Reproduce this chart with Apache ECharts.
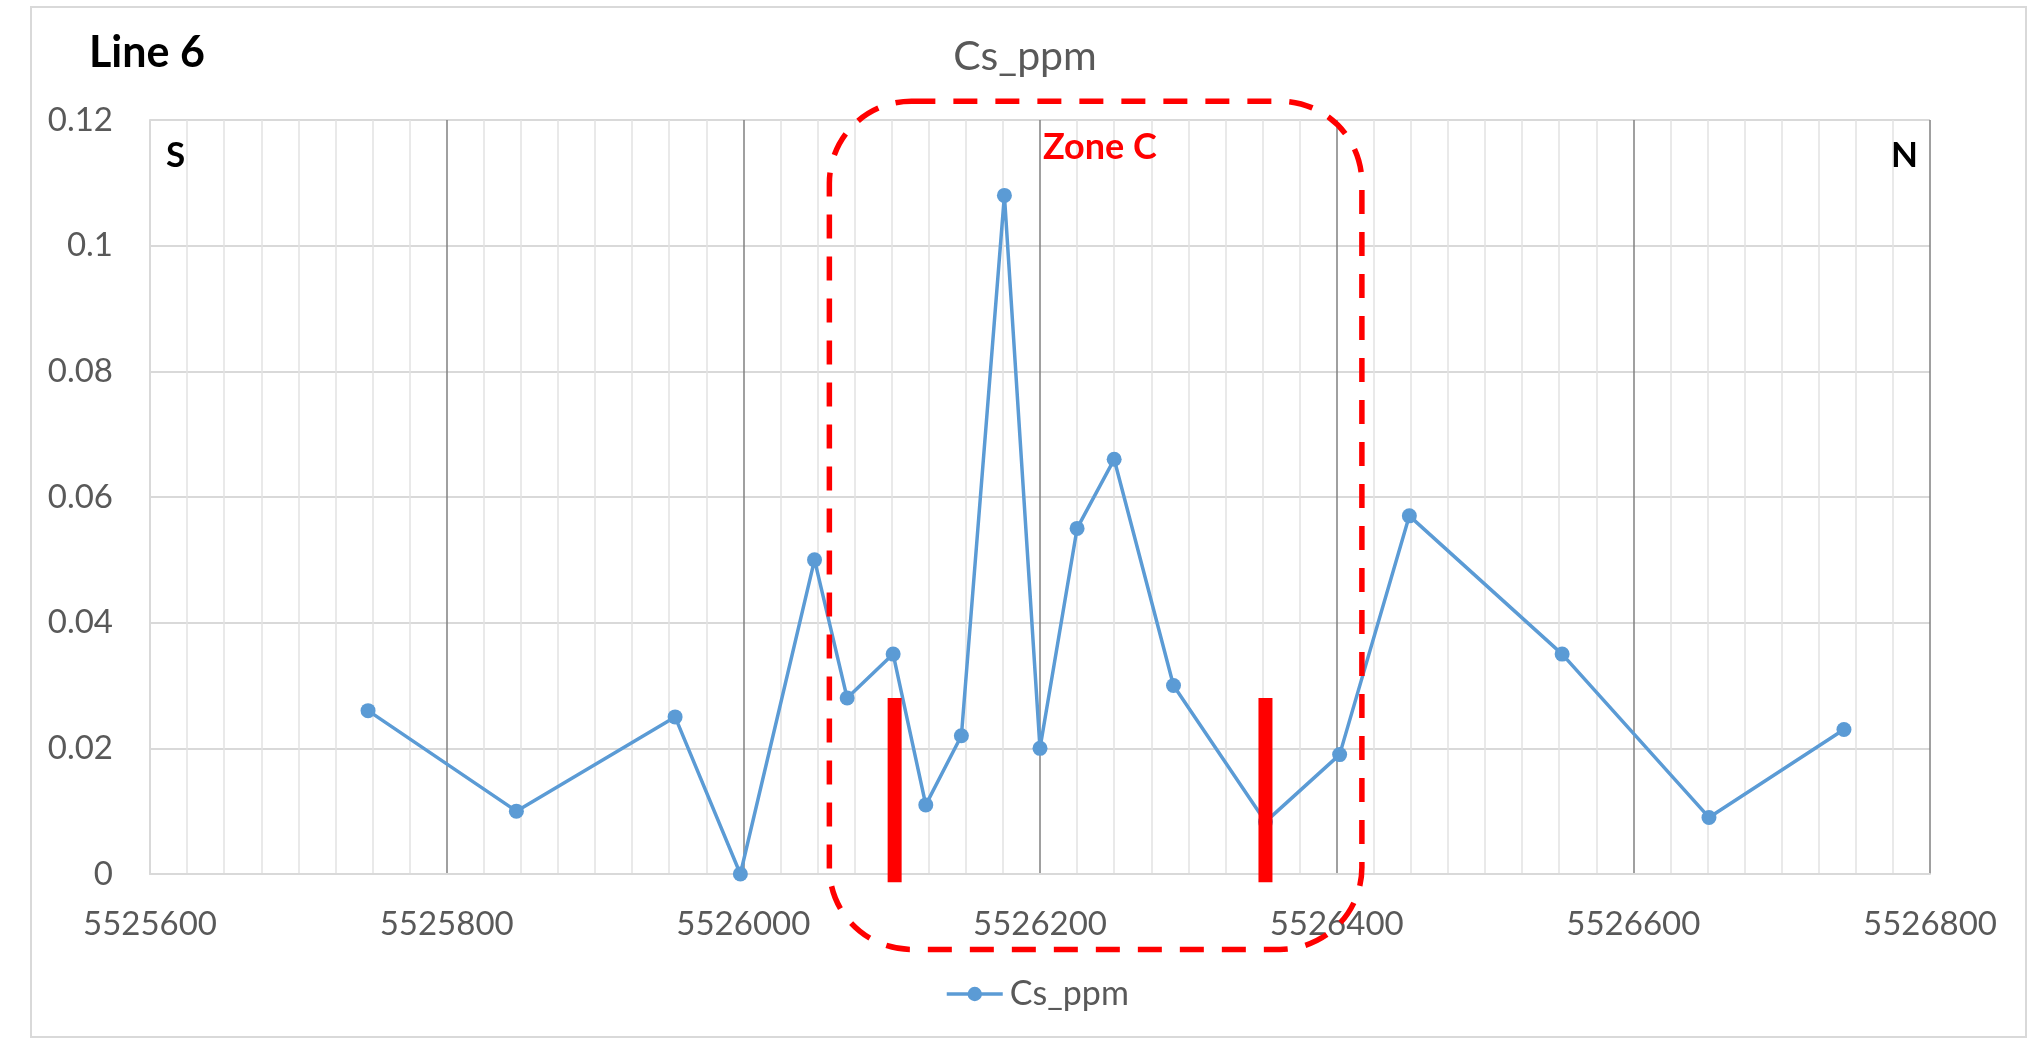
<!DOCTYPE html>
<html>
<head>
<meta charset="utf-8">
<script src="https://cdn.jsdelivr.net/npm/echarts@6/dist/echarts.min.js"></script>
<style>
  html, body { margin: 0; padding: 0; background: #fff; }
  #chart { width: 2029px; height: 1043px; }
</style>
</head>
<body>
<div id="chart"></div>
<script>
// ---- data ----
const positions = [5525747, 5525847, 5525954, 5525998, 5526048, 5526070, 5526101, 5526123, 5526147, 5526176,
                   5526200, 5526225, 5526250, 5526290, 5526352, 5526402, 5526449, 5526552, 5526651, 5526742];
const csPpm     = [0.026, 0.010, 0.025, 0.000, 0.050, 0.028, 0.035, 0.011, 0.022, 0.108,
                   0.020, 0.055, 0.066, 0.030, 0.0083, 0.019, 0.057, 0.035, 0.009, 0.023];
const markerPositions = [5526102, 5526352];   // red contact bars
const markerTop = 0.028;
const markerBase = -0.0013;
const zoneX = [5526058, 5526417];             // dashed Zone C outline (data units)
const zoneY = [-0.012, 0.123];
const xTicks = [5525600, 5525800, 5526000, 5526200, 5526400, 5526600, 5526800];
const yTicks = ['0', '0.02', '0.04', '0.06', '0.08', '0.1', '0.12'];

const FONT = 'Lato';
const chart = echarts.init(document.getElementById('chart'), null, { renderer: 'canvas' });

const lineData = positions.map((x, i) => [x, csPpm[i]]);
const markerData = markerPositions.map(x => [x, markerTop, markerBase]);

const option = {
  backgroundColor: '#ffffff',
  animation: false,
  title: {
    text: 'Cs_ppm',
    left: 1020,
    textAlign: 'center',
    top: 31,
    textStyle: { fontFamily: FONT, fontSize: 41, fontWeight: 'normal', color: '#595959' }
  },
  legend: {
    data: ['Cs_ppm'],
    left: 940,
    top: 972,
    itemWidth: 56,
    itemHeight: 18,
    itemGap: 10,
    lineStyle: { width: 3.5 },
    textStyle: { fontFamily: FONT, fontSize: 34, color: '#595959', padding: [0, 0, 0, 2] }
  },
  grid: { left: 150, right: 99, top: 120, bottom: 169, containLabel: false },
  xAxis: {
    type: 'value',
    min: xTicks[0],
    max: xTicks[xTicks.length - 1],
    interval: 200,
    axisLine: { show: true, lineStyle: { color: '#d9d9d9', width: 2 } },
    axisTick: { show: false },
    minorTick: { show: false, splitNumber: 8 },
    axisLabel: {
      fontFamily: FONT, fontSize: 33, color: '#595959', margin: 34,
      formatter: (v) => String(v)
    },
    splitLine: { show: true, showMinLine: false, lineStyle: { color: '#808080', width: 1.5 } },
    minorSplitLine: { show: true, lineStyle: { color: '#e2e2e2', width: 1.5 } }
  },
  yAxis: {
    type: 'value',
    min: 0,
    max: 0.12,
    interval: 0.02,
    axisLine: { show: true, lineStyle: { color: '#d9d9d9', width: 2 } },
    axisTick: { show: false },
    axisLabel: {
      fontFamily: FONT, fontSize: 33, color: '#595959', margin: 37,
      formatter: (v) => yTicks[Math.round(v / 0.02)]
    },
    splitLine: { show: true, lineStyle: { color: '#d9d9d9', width: 2 } }
  },
  series: [
    {
      name: 'Cs_ppm',
      type: 'line',
      data: lineData,
      symbol: 'circle',
      symbolSize: 15,
      itemStyle: { color: '#5B9BD5' },
      lineStyle: { color: '#5B9BD5', width: 3.5 },
      z: 3
    },
    {
      name: 'contacts',
      type: 'custom',
      clip: false,
      z: 5,
      data: markerData,
      renderItem: (params, api) => {
        const top = api.coord([api.value(0), api.value(1)]);
        const base = api.coord([api.value(0), api.value(2)]);
        return {
          type: 'rect',
          shape: { x: top[0] - 7, y: top[1], width: 14, height: base[1] - top[1] },
          style: { fill: '#FF0000' }
        };
      }
    }
  ]
};
chart.setOption(option);

// annotations positioned from data coordinates
const p0 = chart.convertToPixel({ gridIndex: 0 }, [zoneX[0], zoneY[1]]);
const p1 = chart.convertToPixel({ gridIndex: 0 }, [zoneX[1], zoneY[0]]);
const plotL = chart.convertToPixel({ gridIndex: 0 }, [xTicks[0], 0.12]);
const plotR = chart.convertToPixel({ gridIndex: 0 }, [xTicks[xTicks.length - 1], 0.12]);

chart.setOption({
  graphic: [
    {
      type: 'rect', z: 0, silent: true,
      shape: { x: 31, y: 7, width: 1995, height: 1030 },
      style: { fill: 'none', stroke: '#d9d9d9', lineWidth: 2 }
    },
    {
      type: 'rect', z: 10, silent: true,
      shape: { x: p0[0], y: p0[1], width: p1[0] - p0[0], height: p1[1] - p0[1], r: 82 },
      style: { fill: 'none', stroke: '#FF0000', lineWidth: 5.5, lineDash: [24, 18] }
    },
    {
      type: 'text', z: 10, silent: true, x: 89, y: 53,
      style: { text: 'Line 6', font: 'bold 43px ' + FONT, fill: '#000000', verticalAlign: 'middle' }
    },
    {
      type: 'text', z: 10, silent: true, x: plotL[0] + 16, y: plotL[1] + 36,
      style: { text: 'S', font: 'bold 35px ' + FONT, fill: '#000000', verticalAlign: 'middle' }
    },
    {
      type: 'text', z: 10, silent: true, x: plotR[0] - 12, y: plotR[1] + 36,
      style: { text: 'N', font: 'bold 35px ' + FONT, fill: '#000000', align: 'right', verticalAlign: 'middle' }
    },
    {
      type: 'text', z: 10, silent: true, x: 1043, y: 147,
      style: { text: 'Zone C', font: 'bold 36px ' + FONT, fill: '#FF0000', verticalAlign: 'middle' }
    }
  ]
});
</script>
</body>
</html>
